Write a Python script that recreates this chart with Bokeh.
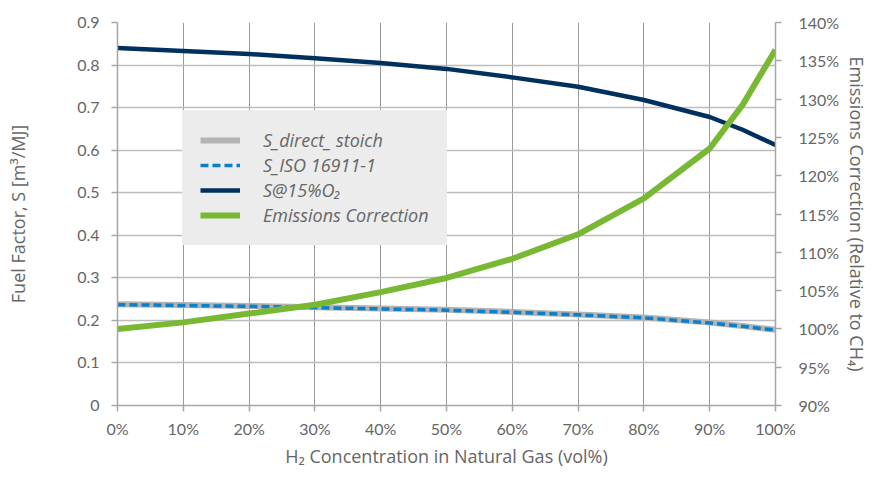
from bokeh.plotting import figure
from bokeh.models import Range1d, LinearAxis, FixedTicker, PrintfTickFormatter, Legend, LegendItem
from bokeh.embed import file_html
from bokeh.resources import INLINE

# ---- data ----
h2_pct = [0, 10, 20, 30, 40, 50, 60, 70, 80, 90, 95, 100]
s_direct_stoich = [0.238, 0.236, 0.234, 0.231, 0.228, 0.225, 0.220, 0.214, 0.207, 0.195, 0.187, 0.178]
s_iso_16911 = [0.237, 0.235, 0.233, 0.230, 0.227, 0.224, 0.219, 0.213, 0.206, 0.194, 0.186, 0.177]
s_15_o2 = [0.840, 0.833, 0.826, 0.816, 0.805, 0.791, 0.771, 0.749, 0.718, 0.678, 0.648, 0.612]
emissions_correction = [100.0, 100.85, 102.0, 103.15, 104.8, 106.65, 109.15, 112.35, 117.05, 123.55, 129.25, 136.45]

x_ticks = [0, 10, 20, 30, 40, 50, 60, 70, 80, 90, 100]
left_ticks = [0, 0.1, 0.2, 0.3, 0.4, 0.5, 0.6, 0.7, 0.8, 0.9]
right_ticks = [90, 95, 100, 105, 110, 115, 120, 125, 130, 135, 140]

labels = ["S_direct_ stoich", "S_ISO 16911-1", "S@15%O\u2082", "Emissions Correction"]

TICK_FONT = "Lato"
LABEL_FONT = "Open Sans"
TXT = "#666666"

p = figure(width=873, height=471, output_backend="svg", toolbar_location=None,
           x_range=Range1d(0, 100), y_range=Range1d(0, 0.9),
           min_border_left=117, min_border_right=98, min_border_top=22, min_border_bottom=66,
           background_fill_color="white", border_fill_color="white")
p.outline_line_color = None
p.extra_y_ranges = {"pct": Range1d(90, 140)}

# grids
p.xgrid.ticker = FixedTicker(ticks=x_ticks)
p.ygrid.ticker = FixedTicker(ticks=left_ticks)
p.xgrid.grid_line_color = "#9a9a9a"
p.xgrid.grid_line_width = 1
p.ygrid.grid_line_color = "#bdbdbd"
p.ygrid.grid_line_width = 1.5

def style_axis(ax):
    ax.major_label_text_font = TICK_FONT
    ax.major_label_text_font_size = "16px"
    ax.major_label_text_color = TXT
    ax.axis_label_text_font = LABEL_FONT
    ax.axis_label_text_font_size = "18px"
    ax.axis_label_text_font_style = "normal"
    ax.axis_label_text_color = TXT
    ax.axis_line_color = "#a6a6a6"
    ax.axis_line_width = 1.5
    ax.major_tick_line_color = "#a6a6a6"
    ax.major_tick_line_width = 1.5
    ax.major_tick_in = 0
    ax.minor_tick_line_color = None

xa = p.xaxis[0]
xa.ticker = FixedTicker(ticks=x_ticks)
xa.formatter = PrintfTickFormatter(format="%d%%")
xa.axis_label = "H\u2082 Concentration in Natural Gas (vol%)"
style_axis(xa)
xa.major_tick_out = 6
xa.major_label_standoff = 7
xa.axis_label_standoff = 3

ya = p.yaxis[0]
ya.ticker = FixedTicker(ticks=left_ticks)
ya.axis_label = "Fuel Factor, S [m\u00b3/MJ]"
style_axis(ya)
ya.major_tick_out = 6
ya.major_label_standoff = 12
ya.axis_label_standoff = 44

ra = LinearAxis(y_range_name="pct", ticker=FixedTicker(ticks=right_ticks),
                formatter=PrintfTickFormatter(format="%d%%"),
                axis_label="Emissions Correction (Relative to CH\u2084)")
style_axis(ra)
ra.major_tick_out = 6
ra.major_label_standoff = 17
ra.axis_label_standoff = 3
p.add_layout(ra, "right")

# lines
r1 = p.line(h2_pct, s_direct_stoich, line_color="#b3b3b3", line_width=6)
r2 = p.line(h2_pct, s_iso_16911, line_color="#0a7fcc", line_width=3.5, line_dash="8 4")
r3 = p.line(h2_pct, s_15_o2, line_color="#00305d", line_width=4.5)
r4 = p.line(h2_pct, emissions_correction, line_color="#78b833", line_width=6, y_range_name="pct")

legend = Legend(items=[LegendItem(label=labels[0], renderers=[r1]),
                       LegendItem(label=labels[1], renderers=[r2]),
                       LegendItem(label=labels[2], renderers=[r3]),
                       LegendItem(label=labels[3], renderers=[r4])],
                location=(65, 160))
legend.background_fill_color = "#ececec"
legend.background_fill_alpha = 1
legend.border_line_color = "#ececec"
legend.border_line_width = 1
legend.label_text_font = LABEL_FONT
legend.label_text_font_style = "italic"
legend.label_text_font_size = "18px"
legend.label_text_color = TXT
legend.glyph_width = 40
legend.glyph_height = 20
legend.label_height = 20
legend.label_standoff = 23
legend.spacing = 1
legend.padding = 17
legend.margin = 0
p.add_layout(legend)

open("out.html", "w").write(file_html(p, INLINE))
